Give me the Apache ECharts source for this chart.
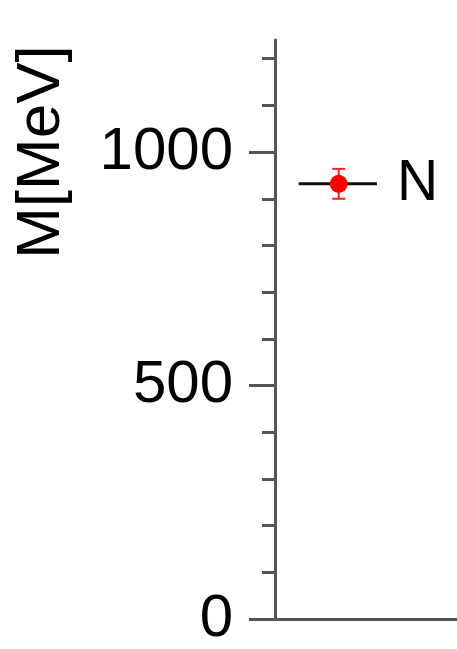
<!DOCTYPE html>
<html>
<head>
<meta charset="utf-8">
<script src="https://cdn.jsdelivr.net/npm/echarts@6/dist/echarts.min.js"></script>
<style>
  html, body { margin: 0; padding: 0; background: #fff; }
  #chart { width: 457px; height: 649px; }
</style>
</head>
<body>
<div id="chart"></div>
<script>
// ---- data ----
const particleNames = ['N'];
const massValues = [932];        // MeV
const massErrors = [32];         // MeV
const pointX = [3.5];            // horizontal position (x-data units)
const bandStart = [1.3];         // black horizontal line start (x-data units)
const bandEnd = [5.6];           // black horizontal line end (x-data units)
const majorTicks = [0, 500, 1000];
const minorTicks = [100, 200, 300, 400, 600, 700, 800, 900, 1100, 1200];
const yMin = 0, yMax = 1240;
const axisTitle = 'M[MeV]';

const FONT = '"Liberation Sans", Arial, Helvetica, sans-serif';
const chart = echarts.init(document.getElementById('chart'), null, { renderer: 'canvas' });

const series = [];
particleNames.forEach((name, i) => {
  series.push({
    type: 'line',
    data: [[bandStart[i], massValues[i]], [bandEnd[i], massValues[i]]],
    symbol: 'none',
    lineStyle: { color: '#111', width: 3 },
    silent: true,
    animation: false,
    endLabel: {
      show: true,
      formatter: name,
      distance: 20,
      color: '#000',
      fontSize: 57,
      fontFamily: FONT
    },
    z: 2
  });
  series.push({
    type: 'custom',
    data: [[pointX[i], massValues[i] - massErrors[i], massValues[i] + massErrors[i]]],
    renderItem: function (params, api) {
      const lo = api.coord([api.value(0), api.value(1)]);
      const hi = api.coord([api.value(0), api.value(2)]);
      const hw = 6.5;
      const st = { stroke: '#ff2020', lineWidth: 2 };
      return {
        type: 'group',
        children: [
          { type: 'line', shape: { x1: lo[0], y1: lo[1], x2: hi[0], y2: hi[1] }, style: st },
          { type: 'line', shape: { x1: lo[0] - hw, y1: lo[1], x2: lo[0] + hw, y2: lo[1] }, style: st },
          { type: 'line', shape: { x1: hi[0] - hw, y1: hi[1], x2: hi[0] + hw, y2: hi[1] }, style: st }
        ]
      };
    },
    animation: false,
    z: 3
  });
  series.push({
    type: 'scatter',
    data: [[pointX[i], massValues[i]]],
    symbol: 'circle',
    symbolSize: 18,
    itemStyle: { color: '#ff0000', opacity: 1 },
    animation: false,
    z: 4
  });
});

const option = {
  backgroundColor: '#fff',
  animation: false,
  grid: { left: 275, right: 0, top: 40, bottom: 27, containLabel: false },
  xAxis: {
    type: 'value', min: 0, max: 10,
    axisLine: { show: true, onZero: false, lineStyle: { color: '#555', width: 3 } },
    axisTick: { show: false }, axisLabel: { show: false }, splitLine: { show: false }
  },
  yAxis: [
    {
      type: 'value', min: yMin, max: yMax, position: 'left',
      axisLine: { show: true, lineStyle: { color: '#555', width: 3 } },
      axisTick: { show: true, customValues: majorTicks, length: 26, lineStyle: { color: '#555', width: 3 } },
      axisLabel: {
        show: true, customValues: majorTicks, margin: 42,
        formatter: function (v) { return String(v); },
        color: '#000', fontSize: 60, fontFamily: FONT
      },
      splitLine: { show: false }
    },
    {
      type: 'value', min: yMin, max: yMax, position: 'left',
      axisLine: { show: false },
      axisTick: { show: true, customValues: minorTicks, length: 13, lineStyle: { color: '#555', width: 3 } },
      axisLabel: { show: false },
      splitLine: { show: false }
    }
  ],
  graphic: [{
    type: 'text',
    x: 42, y: 152,
    rotation: Math.PI / 2,
    style: {
      text: axisTitle,
      fill: '#000',
      font: '62px ' + FONT,
      align: 'center',
      verticalAlign: 'middle'
    }
  }],
  series: series
};
chart.setOption(option);
</script>
</body>
</html>
